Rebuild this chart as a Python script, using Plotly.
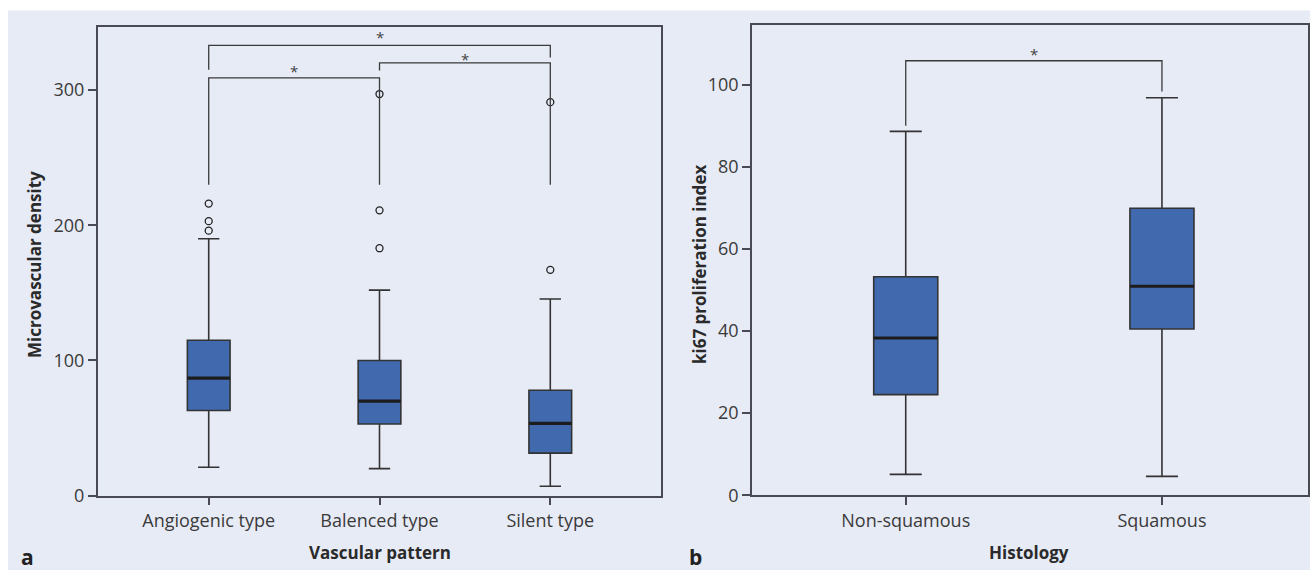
import plotly.graph_objects as go

# ---------------- data ----------------
mvd_categories = ["Angiogenic type", "Balenced type", "Silent type"]
mvd_lower = [21, 20, 7]
mvd_q1 = [63, 53, 31.5]
mvd_median = [87, 70, 53.5]
mvd_q3 = [115, 100, 78]
mvd_upper = [190, 152, 145.5]
mvd_outliers = [[216, 203, 196], [297, 211, 183], [291, 167]]
mvd_ticks = [0, 100, 200, 300]

ki67_categories = ["Non-squamous", "Squamous"]
ki67_lower = [5.1, 4.6]
ki67_q1 = [24.5, 40.5]
ki67_median = [38.3, 50.9]
ki67_q3 = [53.2, 69.9]
ki67_upper = [88.6, 96.8]
ki67_ticks = [0, 20, 40, 60, 80, 100]

# significance brackets: (left group, right group, bar height, left leg bottom, right leg bottom, star height)
mvd_brackets = [
    (0, 1, 309, 230, 230, 316.5),
    (1, 2, 320, 314.5, 230, 325.5),
    (0, 2, 333, 315, 324, 341.5),
]
ki67_brackets = [
    (0, 1, 105.8, 90.0, 98.3, 108.2),
]

# ---------------- style ----------------
BG = "#e7ebf6"
BOX_FILL = "#416aae"
LINE = "#333333"
AX = "#4a4a55"
FONT = "Open Sans"
BOX_W = 0.25

W, H = 1310, 573


def px(x):
    return x / W


def py(y):
    return 1 - y / H


fig = go.Figure()


def add_panel(cats, lo, q1, med, q3, up, outliers, xa, ya):
    pos = list(range(len(cats)))
    fig.add_trace(go.Box(
        x=pos, q1=q1, median=med, q3=q3, lowerfence=lo, upperfence=up,
        width=BOX_W, whiskerwidth=0.5, boxpoints=False,
        fillcolor=BOX_FILL, line=dict(color=LINE, width=1.6),
        xaxis=xa, yaxis=ya, showlegend=False, hoverinfo="skip",
    ))
    for i, m in enumerate(med):
        fig.add_shape(type="line", xref=xa, yref=ya,
                      x0=i - BOX_W / 2, x1=i + BOX_W / 2, y0=m, y1=m,
                      line=dict(color="#1c1c1c", width=3.2))
    if outliers:
        ox, oy = [], []
        for i, vals in enumerate(outliers):
            ox += [i] * len(vals)
            oy += vals
        fig.add_trace(go.Scatter(
            x=ox, y=oy, mode="markers", xaxis=xa, yaxis=ya,
            marker=dict(symbol="circle-open", size=7,
                        color="#222222", line=dict(width=1.3)),
            showlegend=False, hoverinfo="skip"))


def add_brackets(brackets, xa, ya):
    for (a, b, top, la, lb, star) in brackets:
        fig.add_trace(go.Scatter(
            x=[a, a, b, b], y=[la, top, top, lb], mode="lines",
            line=dict(color="#3a3a3a", width=1.3),
            xaxis=xa, yaxis=ya, showlegend=False, hoverinfo="skip"))
        fig.add_annotation(x=(a + b) / 2, y=star, xref=xa, yref=ya,
                           text="*", showarrow=False, yanchor="middle",
                           yshift=-3,
                           font=dict(family=FONT, size=15, color="#444444"))


add_panel(mvd_categories, mvd_lower, mvd_q1, mvd_median, mvd_q3, mvd_upper,
          mvd_outliers, "x", "y")
add_brackets(mvd_brackets, "x", "y")
add_panel(ki67_categories, ki67_lower, ki67_q1, ki67_median, ki67_q3,
          ki67_upper, None, "x2", "y2")
add_brackets(ki67_brackets, "x2", "y2")

axis_common = dict(showline=True, mirror=True, linecolor=AX, linewidth=1.5,
                   ticks="outside", ticklen=8, tickcolor=AX, tickwidth=1.5,
                   showgrid=False, zeroline=False, automargin=False,
                   tickfont=dict(family=FONT, size=18, color="#3a3a3a"))

fig.update_layout(
    width=W, height=H,
    margin=dict(l=0, r=0, t=0, b=0, pad=0, autoexpand=False),
    paper_bgcolor="white", plot_bgcolor=BG,
    font=dict(family=FONT, color="#333333"),
    xaxis=dict(domain=[px(97.7), px(661.3)], range=[-0.65, 2.65],
               tickvals=list(range(len(mvd_categories))),
               ticktext=mvd_categories, anchor="y", **axis_common),
    yaxis=dict(domain=[py(495.7), py(26.7)], range=[0, 346.8],
               tickvals=mvd_ticks, anchor="x", **axis_common),
    xaxis2=dict(domain=[px(752), px(1308)], range=[-0.6, 1.57],
                tickvals=list(range(len(ki67_categories))),
                ticktext=ki67_categories, anchor="y2", **axis_common),
    yaxis2=dict(domain=[py(495.3), py(25)], range=[0, 114.5],
                tickvals=ki67_ticks, anchor="x2", **axis_common),
)

# lavender background panel (white band at top and left as in reference)
fig.add_shape(type="rect", xref="paper", yref="paper",
              x0=px(8), x1=1, y0=py(570), y1=py(10.5),
              fillcolor=BG, line=dict(width=0), layer="below")

title_font = dict(family=FONT, size=17, color="#2a2a2a")
texts = [
    ("Microvascular density", 34, 265, -90),
    ("ki67 proliferation index", 699, 265, -90),
    ("Vascular pattern", 380, 552, 0),
    ("Histology", 1029, 552, 0),
]
for t, x, y, ang in texts:
    fig.add_annotation(text="<b>%s</b>" % t, x=px(x), y=py(y),
                       xref="paper", yref="paper", showarrow=False,
                       textangle=ang, xanchor="center", yanchor="middle",
                       font=title_font)
for t, x, y in [("a", 27, 557), ("b", 695, 557)]:
    fig.add_annotation(text="<b>%s</b>" % t, x=px(x), y=py(y),
                       xref="paper", yref="paper", showarrow=False,
                       xanchor="center", yanchor="middle",
                       font=dict(family=FONT, size=21, color="#222222"))

fig.write_html(
    "out.html",
    config={"displayModeBar": False},
    post_script="document.body.style.margin='0';document.body.style.overflow='hidden';",
)
